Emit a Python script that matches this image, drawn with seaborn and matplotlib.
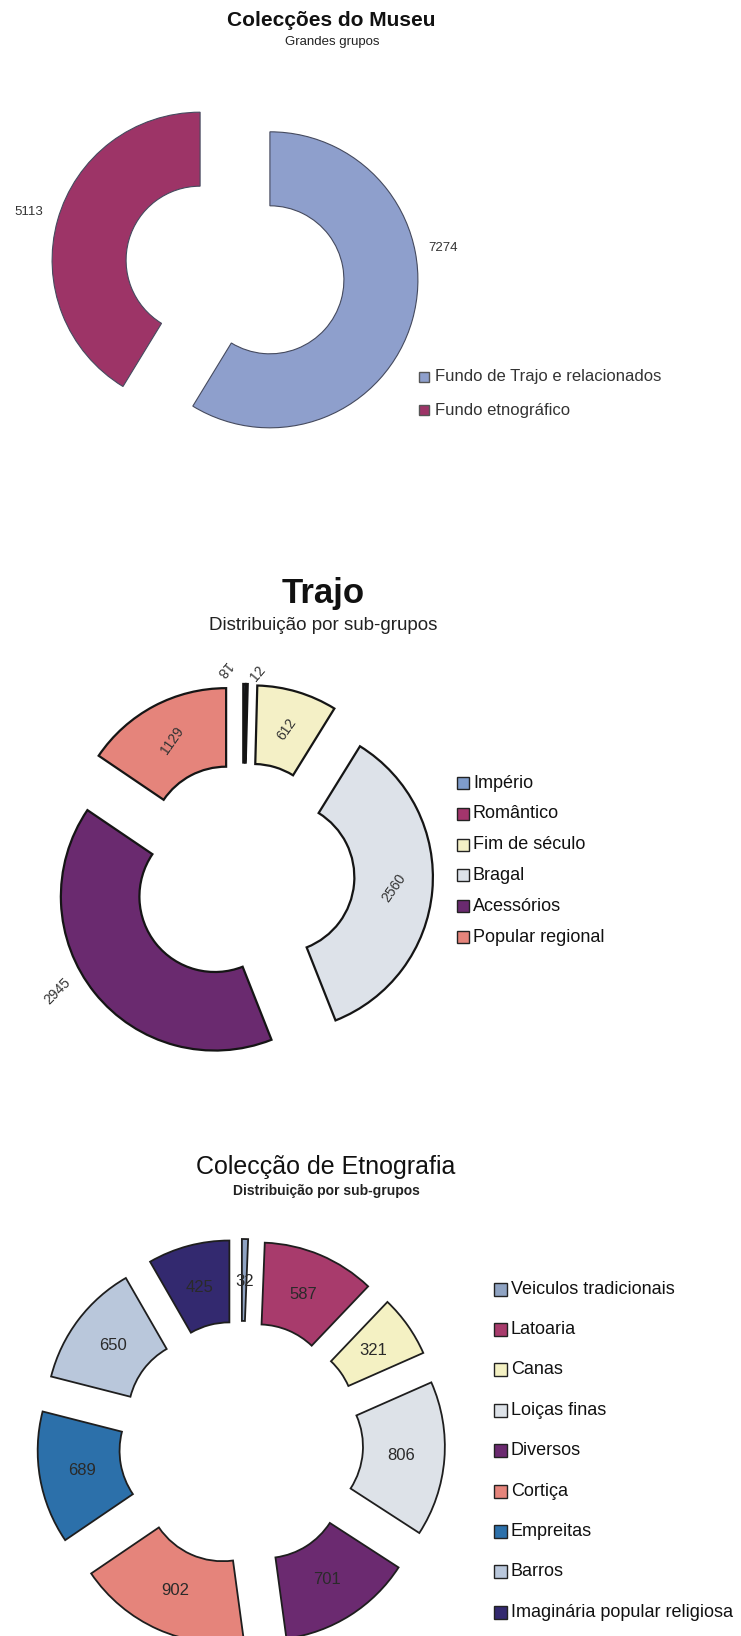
import numpy as np
import matplotlib
matplotlib.use("Agg")
import matplotlib.pyplot as plt
import seaborn as sns
from matplotlib.patches import Rectangle

# ---------------- data ----------------
museu_labels = ["Fundo de Trajo e relacionados", "Fundo etnográfico"]
museu_values = [7274, 5113]
museu_colors = ["#8e9fcc", "#9d3467"]

trajo_labels = ["Império", "Romântico", "Fim de século", "Bragal", "Acessórios", "Popular regional"]
trajo_values = [18, 12, 612, 2560, 2945, 1129]
trajo_colors = ["#7f9ccb", "#a3356c", "#f4f0c6", "#dde2e9", "#6a2a6f", "#e5847b"]

etno_labels = ["Veiculos tradicionais", "Latoaria", "Canas", "Loiças finas", "Diversos",
               "Cortiça", "Empreitas", "Barros", "Imaginária popular religiosa"]
etno_values = [32, 587, 321, 806, 701, 902, 689, 650, 425]
etno_colors = ["#8fa3c2", "#a83b6c", "#f4f1c3", "#dde2e8", "#6b2a70",
               "#e5847b", "#2c70aa", "#b9c7db", "#33296f"]

# ---------------- style ----------------
sns.set_theme(style="white")
plt.rcParams["font.family"] = ["Liberation Sans", "DejaVu Sans"]

W, H = 741, 1636
fig = plt.figure(figsize=(W / 100, H / 100), dpi=100)
fig.patch.set_facecolor("white")


def donut(cx, cy, R, values, colors, width, explode, edge, lw, L=1.75):
    ax = fig.add_axes([(cx - L * R) / W, 1 - (cy + L * R) / H, 2 * L * R / W, 2 * L * R / H])
    wedges, _ = ax.pie(values, colors=colors, explode=[explode] * len(values),
                       startangle=90, counterclock=False, radius=1,
                       wedgeprops=dict(width=width, edgecolor=edge, linewidth=lw,
                                       joinstyle="miter"))
    ax.set_aspect("auto")
    ax.set_xlim(-L, L)
    ax.set_ylim(-L, L)
    ax.axis("off")
    return ax, wedges


def put_labels(ax, wedges, values, dist, fs, color, rot=None, overrides=None):
    overrides = overrides or {}
    for i, (w, v) in enumerate(zip(wedges, values)):
        mid = 0.5 * (w.theta1 + w.theta2)
        d = dist
        r = 0 if rot is None else rot
        if i in overrides:
            o = overrides[i]
            if "clock" in o:
                mid = 90 - o["clock"]
            d = o.get("dist", d)
            r = o.get("rot", r)
        x = w.center[0] + d * np.cos(np.radians(mid))
        y = w.center[1] + d * np.sin(np.radians(mid))
        ax.text(x, y, str(v), ha="center", va="center", fontsize=fs, color=color,
                rotation=r, rotation_mode="anchor")


def legend(x_sq, x_txt, y0, pitch, sq, labels, colors, fs, edge, tcolor):
    for k, (lab, col) in enumerate(zip(labels, colors)):
        y = y0 + k * pitch
        fig.add_artist(Rectangle((x_sq / W, 1 - (y + sq / 2) / H), sq / W, sq / H,
                                 transform=fig.transFigure, facecolor=col,
                                 edgecolor=edge, linewidth=1.0))
        fig.text(x_txt / W, 1 - y / H, lab, ha="left", va="center",
                 fontsize=fs, color=tcolor)


def ftext(x, y, s, **kw):
    fig.text(x / W, 1 - y / H, s, ha="center", va="center", **kw)


# ---------------- chart 1 ----------------
ftext(331, 21, "Colecções do Museu", fontsize=15, fontweight="bold", color="#111111")
ftext(332, 42, "Grandes grupos", fontsize=9.5, color="#222222")
ax1, w1 = donut(235, 270, 148, museu_values, museu_colors, 0.5, 0.245, "#454a5e", 0.8)
put_labels(ax1, w1, museu_values, 1.2, 9.5, "#333333",
           overrides={0: {"clock": 79.5, "dist": 1.19}})
legend(419, 435, 377, 33, 10, museu_labels, museu_colors, 12, "#555555", "#333333")

# ---------------- chart 2 ----------------
ftext(323, 594, "Trajo", fontsize=25, fontweight="bold", color="#111111")
ftext(323, 625, "Distribuição por sub-grupos", fontsize=13.5, color="#222222")
ax2, w2 = donut(243, 874, 154, trajo_values, trajo_colors, 0.51, 0.234, "#151515", 1.6)
put_labels(ax2, w2, trajo_values, 0.75, 10, "#333333", rot=55,
           overrides={0: {"clock": -6.7, "dist": 1.1, "rot": 230},
                      1: {"clock": 4.9, "dist": 1.07, "rot": 50},
                      4: {"clock": 239, "dist": 1.19, "rot": 45}})
legend(457, 473, 783, 30.8, 12, trajo_labels, trajo_colors, 13, "#222222", "#111111")

# ---------------- chart 3 ----------------
ftext(326, 1167, "Colecção de Etnografia", fontsize=18, color="#111111")
ftext(326, 1191, "Distribuição por sub-grupos", fontsize=10, fontweight="bold", color="#222222")
ax3, w3 = donut(241, 1443, 159, etno_values, etno_colors, 0.515, 0.283, "#1e1e1e", 1.3)
put_labels(ax3, w3, etno_values, 0.73, 12, "#2a2a2a")
legend(494, 511, 1289, 40.4, 13, etno_labels, etno_colors, 13, "#222222", "#111111")

fig.savefig("out.png", dpi=100, facecolor="white")
